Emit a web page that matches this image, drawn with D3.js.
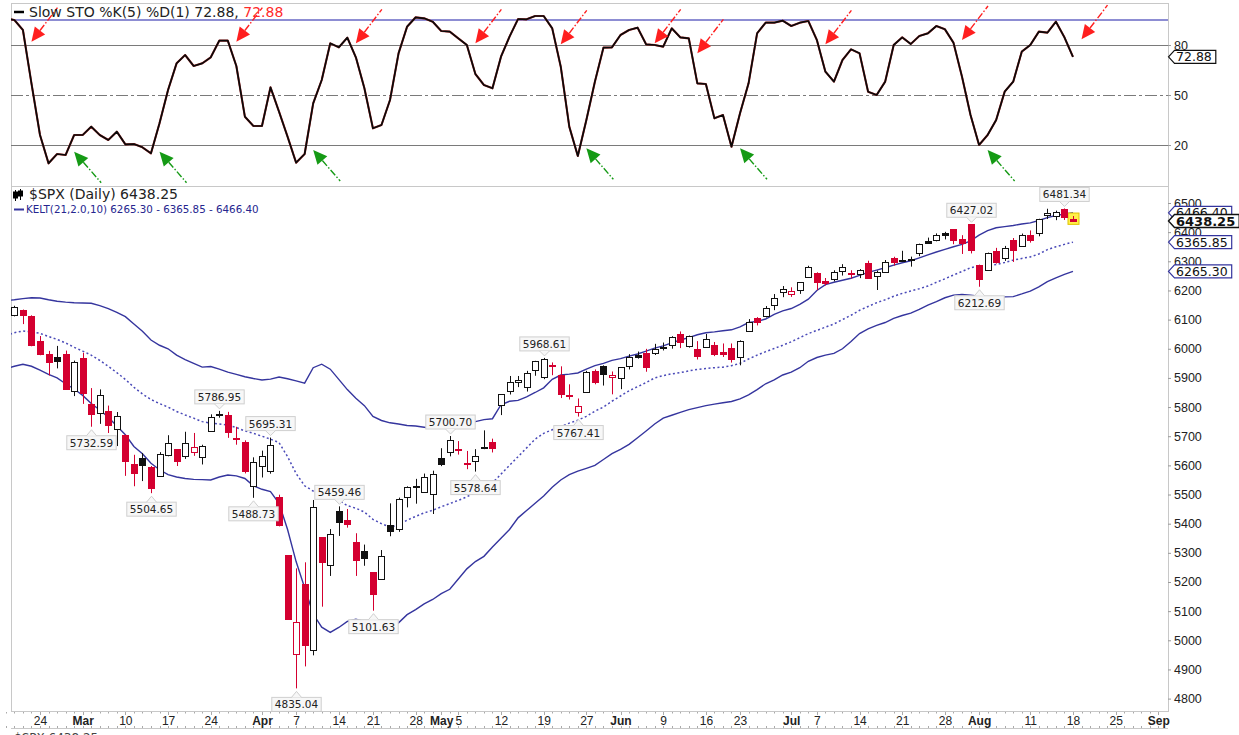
<!DOCTYPE html>
<html>
<head>
<meta charset="utf-8">
<script src="https://cdn.jsdelivr.net/npm/d3@7"></script>
<style>
  body { margin: 0; background: #fff; }
  svg { display: block; }
  text { font-family: "DejaVu Sans", Verdana, sans-serif; }
  .ax text { font-family: "Liberation Sans", Arial, sans-serif; }
</style>
</head>
<body>
<div id="chart"></div>
<script>
// trading days shown (2025), last one is Aug 18
const dates = [
  "02-18","02-19","02-20","02-21","02-24","02-25","02-26","02-27","02-28",
  "03-03","03-04","03-05","03-06","03-07","03-10","03-11","03-12","03-13","03-14",
  "03-17","03-18","03-19","03-20","03-21","03-24","03-25","03-26","03-27","03-28","03-31",
  "04-01","04-02","04-03","04-04","04-07","04-08","04-09","04-10","04-11","04-14",
  "04-15","04-16","04-17","04-21","04-22","04-23","04-24","04-25","04-28","04-29","04-30",
  "05-01","05-02","05-05","05-06","05-07","05-08","05-09","05-12","05-13","05-14",
  "05-15","05-16","05-19","05-20","05-21","05-22","05-23","05-27","05-28","05-29","05-30",
  "06-02","06-03","06-04","06-05","06-06","06-09","06-10","06-11","06-12","06-13",
  "06-16","06-17","06-18","06-20","06-23","06-24","06-25","06-26","06-27","06-30",
  "07-01","07-02","07-03","07-07","07-08","07-09","07-10","07-11","07-14","07-15","07-16",
  "07-17","07-18","07-21","07-22","07-23","07-24","07-25","07-28","07-29","07-30","07-31",
  "08-01","08-04","08-05","08-06","08-07","08-08","08-11","08-12","08-13","08-14","08-15","08-18"
];
// empty days to the right edge of the axis
const futureDays = ["08-19","08-20","08-21","08-22","08-25","08-26","08-27","08-28","08-29","09-02"];

const openP = [
  6121.6,6117.8,6134.5,6114.1,6026.7,5982.7,5970.9,5981.9,5856.7,
  5968.3,5812.0,5781.4,5785.9,5726.0,5705.4,5603.7,5624.8,5594.5,5563.9,
  5635.6,5654.5,5632.4,5646.9,5630.7,5718.1,5775.9,5771.7,5695.6,5679.0,5527.9,
  5597.5,5580.8,5492.7,5292.1,4953.8,5193.6,4965.3,5353.2,5255.6,5442.0,
  5412.0,5335.8,5305.5,5232.9,5207.7,5395.9,5381.4,5489.7,5529.0,5508.9,5499.4,
  5625.1,5645.4,5655.3,5606.9,5614.8,5659.9,5679.1,5807.6,5854.4,5886.6,
  5869.8,5929.1,5902.9,5944.7,5910.0,5841.3,5781.9,5854.1,5925.0,5939.9,5903.7,
  5896.7,5938.6,5978.9,5985.7,5987.1,6004.6,6009.9,6049.4,6009.9,6000.6,
  6004.0,6012.1,5987.9,6004.3,5969.7,6061.2,6104.2,6112.1,6150.7,6193.4,
  6187.3,6199.1,6246.1,6259.8,6233.7,6240.6,6266.4,6255.7,6255.2,6295.3,6248.6,
  6263.8,6311.0,6304.7,6306.6,6326.9,6368.6,6370.0,6397.7,6409.3,6375.4,6427.0,
  6287.3,6271.7,6336.0,6309.1,6374.3,6351.6,6389.7,6397.3,6460.0,6453.4,6478.9,6445.0
];
const highP = [
  6129.6,6147.4,6134.5,6114.8,6043.7,5992.7,6009.8,5993.7,5959.4,
  5986.1,5865.1,5860.6,5805.1,5783.0,5705.4,5636.3,5642.2,5597.8,5645.3,
  5703.5,5654.5,5715.3,5711.2,5670.8,5775.1,5786.95,5783.6,5732.3,5685.9,5627.6,
  5650.6,5695.31,5499.5,5292.1,5246.6,5267.5,5481.3,5353.2,5381.5,5459.46,
  5450.4,5367.2,5328.3,5232.9,5309.6,5469.7,5489.4,5528.1,5553.7,5571.9,5581.8,
  5658.9,5700.70,5683.3,5649.5,5655.6,5720.1,5691.7,5844.2,5906.6,5906.6,
  5924.2,5958.6,5968.61,5953.1,5939.8,5878.1,5829.5,5924.3,5929.0,5943.1,5922.1,
  5937.4,5981.4,5990.5,5999.7,6016.9,6021.3,6043.0,6059.4,6045.4,6026.2,
  6050.8,6023.3,6018.2,6018.2,6028.9,6101.8,6108.5,6146.5,6187.7,6215.1,
  6210.8,6227.6,6284.7,6262.3,6242.7,6269.2,6290.2,6269.4,6273.3,6302.0,6268.3,
  6304.4,6315.6,6336.1,6316.1,6360.6,6381.3,6395.8,6401.1,6409.3,6389.6,6427.02,
  6288.6,6329.9,6346.1,6352.8,6379.9,6395.2,6405.9,6446.0,6480.3,6473.8,6481.34,6455.3
];
const lowP = [
  6099.5,6111.2,6084.6,6008.6,5977.8,5908.5,5932.7,5858.8,5837.7,
  5810.9,5732.59,5742.4,5711.0,5666.3,5564.0,5528.4,5546.1,5504.65,5563.9,
  5631.1,5597.8,5622.2,5632.6,5603.1,5718.1,5763.6,5694.4,5670.9,5572.4,5488.73,
  5558.5,5571.5,5390.8,5069.9,4835.04,4910.4,4948.4,5115.3,5220.8,5358.0,
  5386.4,5220.8,5255.6,5101.63,5207.7,5356.9,5372.0,5455.9,5468.6,5505.7,5433.2,
  5597.4,5631.0,5637.0,5586.9,5578.64,5655.6,5644.3,5772.5,5843.1,5868.5,
  5853.3,5907.4,5895.7,5909.3,5830.9,5825.8,5767.41,5854.1,5878.1,5873.8,5843.7,
  5861.4,5929.0,5966.1,5921.2,5978.6,5994.2,6000.3,6002.3,6003.9,5963.2,
  6004.0,5974.8,5971.9,5952.6,5943.2,6059.4,6080.1,6107.2,6132.4,6177.0,
  6178.0,6188.3,6246.1,6201.0,6217.0,6231.1,6251.1,6241.3,6242.3,6241.6,6201.6,
  6263.8,6285.3,6303.8,6281.7,6317.5,6360.6,6368.5,6375.2,6358.7,6325.2,6327.0,
  6212.69,6271.7,6292.1,6301.4,6297.8,6350.6,6364.1,6385.8,6445.0,6441.1,6441.8,6437.0
];
const closeP = [
  6129.58,6144.15,6117.52,6013.13,5983.25,5955.25,5956.06,5861.57,5954.50,
  5849.72,5778.15,5842.63,5738.52,5770.20,5614.56,5572.07,5599.30,5521.52,5638.94,
  5675.12,5614.66,5675.29,5662.89,5667.56,5767.57,5776.65,5712.20,5693.31,5580.94,5611.85,
  5633.07,5670.97,5396.52,5074.08,5062.25,4982.77,5456.90,5268.05,5363.36,5405.97,
  5396.63,5275.70,5282.70,5158.20,5287.76,5375.86,5484.77,5525.21,5528.75,5560.83,5569.06,
  5604.14,5686.67,5650.38,5606.91,5631.28,5663.94,5659.91,5844.19,5886.55,5892.58,
  5916.93,5958.38,5963.60,5940.46,5844.61,5842.01,5802.82,5921.54,5888.55,5912.17,5911.69,
  5935.94,5970.37,5970.81,5939.30,6000.36,6005.88,6038.81,6022.24,6045.26,5976.97,
  6033.11,5982.72,5980.87,5967.84,6025.17,6092.18,6092.16,6141.02,6173.07,6204.95,
  6198.01,6227.42,6279.35,6229.98,6225.52,6263.26,6280.46,6259.75,6268.56,6243.76,6263.70,
  6297.36,6296.79,6305.60,6309.62,6358.91,6363.35,6388.64,6389.77,6370.86,6362.90,6339.39,
  6238.01,6329.94,6299.19,6345.06,6340.00,6389.45,6373.45,6445.76,6466.58,6468.54,6449.80,6438.25
];
const priorClose = 6114.63;

// Keltner channel
const keltUpper = [
  6165,6168,6172,6175,6174,6168,6163,6160,6158,
  6157,6156,6148,6138,6125,6110,6085,6060,6030,6012,
  6000,5978,5963,5950,5937,5939,5930,5920,5912,5904,5898,
  5893,5896,5903,5897,5890,5882,5935,5947,5930,5895,
  5860,5830,5805,5768,5754,5746,5742,5737,5735,5731,5727,
  5729,5732,5735,5742,5750,5757,5760,5808,5820,5823,
  5835,5850,5866,5895,5910,5913,5917,5930,5942,5950,5960,
  5966,5975,5982,5992,6002,6010,6020,6030,6038,6048,
  6055,6058,6062,6065,6075,6090,6094,6102,6118,6130,
  6138,6152,6170,6200,6220,6228,6235,6242,6252,6262,6270,
  6278,6287,6295,6302,6312,6322,6332,6341,6350,6358,6370,
  6390,6405,6415,6419,6423,6428,6432,6440,6450,6457,6462,6466.40
];
const keltMiddle = [
  6045,6055,6061,6058,6053,6042,6032,6020,6005,
  5992,5978,5960,5940,5918,5895,5868,5845,5826,5812,
  5800,5785,5773,5762,5750,5745,5742,5738,5730,5718,5710,
  5700,5690,5678,5630,5572,5530,5512,5503,5497,5480,
  5462,5453,5440,5415,5400,5388,5395,5412,5425,5437,5446,
  5458,5469,5480,5492,5508,5522,5540,5570,5600,5630,
  5660,5690,5710,5722,5733,5745,5755,5768,5786,5800,5820,
  5838,5856,5870,5884,5900,5908,5914,5918,5924,5929,
  5932,5935,5937,5942,5950,5965,5978,5990,6001,6012,
  6024,6038,6052,6063,6074,6085,6100,6115,6132,6145,6158,
  6168,6180,6190,6198,6206,6215,6228,6240,6253,6265,6278,
  6284,6286,6289,6296,6304,6310,6315,6325,6340,6350,6358,6365.85
];
const keltLower = [
  5932,5940,5947,5940,5927,5912,5900,5880,5862,
  5840,5812,5790,5765,5735,5705,5665,5640,5607,5585,
  5568,5560,5555,5552,5551,5550,5560,5567,5564,5555,5530,
  5518,5510,5470,5380,5270,5180,5090,5045,5027,5044,
  5065,5072,5065,5055,5050,5047,5060,5088,5105,5125,5140,
  5160,5175,5210,5245,5270,5288,5320,5350,5380,5420,
  5445,5470,5495,5525,5550,5568,5580,5590,5600,5620,5640,
  5655,5672,5695,5718,5742,5762,5772,5782,5791,5798,
  5805,5810,5815,5819,5828,5842,5860,5880,5893,5910,
  5920,5935,5957,5970,5978,5984,6000,6025,6052,6068,6080,
  6090,6104,6114,6122,6135,6150,6162,6175,6184,6186,6184,
  6180,6176,6175,6178,6179,6188,6198,6212,6230,6243,6255,6265.30
];

// Slow STO %K(5)
const stoK = [
  96,95,89,57,26,9,14.6,14,26,
  26,31,26,23,28,20.4,20.6,18.6,15,33,
  53,69,74,67.4,69,72.6,82.6,82.6,67.4,37,31.4,
  31.4,54.6,40,25,9.4,14.6,45,59,81,78.6,
  84.4,72.6,54,30,32,47,75,91,96.6,96,94,
  88.4,88,84,80,62.6,56,54,73,85,95.6,
  95.4,97.4,97.4,90,67,31,13.4,35,58,78.4,78.6,
  86,89,90.4,80.4,80,79,90,84.6,84,57,
  56.6,36,38,19,39,57,87,93.4,93.4,94.6,
  91.4,93.4,94.4,83,64,58,71,77.4,75,52,50,
  58,80,84.6,80.6,85.4,87,91.4,89.4,81.4,61,38,
  20,26,35,52,58,76,80,88,87.4,94,84.6,72.88
];

const priceTicks = [4800,4900,5000,5100,5200,5300,5400,5500,5600,5700,5800,5900,6000,6100,6200,6300,6400,6500];
const stoTicks = [20,50,80];
const stoBlueLevel = 95;

const xTickLabels = [
  ["02-24","24"],["03-03","Mar"],["03-10","10"],["03-17","17"],["03-24","24"],
  ["04-01","Apr"],["04-07","7"],["04-14","14"],["04-21","21"],["04-28","28"],
  ["05-01","May"],["05-05","5"],["05-12","12"],["05-19","19"],["05-27","27"],
  ["06-02","Jun"],["06-09","9"],["06-16","16"],["06-23","23"],
  ["07-01","Jul"],["07-07","7"],["07-14","14"],["07-21","21"],["07-28","28"],
  ["08-01","Aug"],["08-11","11"],["08-18","18"],["08-25","25"],["09-02","Sep"]
];
const monthNames = ["Mar","Apr","May","Jun","Jul","Aug","Sep"];

const highLabels = [["03-25",5786.95],["04-02",5695.31],["04-14",5459.46],["05-02",5700.70],
                    ["05-19",5968.61],["07-31",6427.02],["08-15",6481.34]];
const lowLabels = [["03-04",5732.59],["03-13",5504.65],["03-31",5488.73],["04-07",4835.04],
                   ["04-21",5101.63],["05-07",5578.64],["05-23",5767.41],["08-01",6212.69]];

// hand drawn arrows on the oscillator: tip date and value
const sellArrows = [["02-21",82],["03-27",82],["04-16",81],["05-07",81],["05-21",80.4],
                    ["06-06",81],["06-13",75],["07-08",80.4],["07-30",83],["08-19",83.5]];
const buyArrows = [["02-28",16],["03-14",16],["04-09",17],["05-27",18],["06-23",18],["08-04",17]];

const keltValues = [6265.30, 6365.85, 6466.40];
const lastPrice = 6438.25;

// ---------------------------------------------------------------
const width = 1239, height = 735;
const L = 11, R = 1168;
const stoTop = 3, stoBot = 186, mainTop = 186, mainBot = 711;
const red = "#d40030", kelt = "#35359e";

const svg = d3.select("#chart").append("svg")
  .attr("width", width).attr("height", height);

const allDays = dates.concat(futureDays);
const x = d3.scalePoint().domain(allDays).range([5.85, 5.85 + (allDays.length - 1) * 8.537]);
const y = d3.scaleLinear().domain([4800, 6500]).range([698.6, 203]);
const ySto = d3.scaleLinear().domain([20, 80]).range([145, 45]);

const defs = svg.append("defs");
defs.append("clipPath").attr("id", "clipSto").append("rect")
  .attr("x", L).attr("y", stoTop).attr("width", R - L).attr("height", stoBot - stoTop);
defs.append("clipPath").attr("id", "clipMain").append("rect")
  .attr("x", L).attr("y", mainTop).attr("width", R - L).attr("height", mainBot - mainTop);

// panel frames
svg.append("rect").attr("x", L + 0.5).attr("y", stoTop + 0.5).attr("width", R - L).attr("height", stoBot - stoTop)
  .attr("fill", "none").attr("stroke", "#c8c8c8");
svg.append("rect").attr("x", L + 0.5).attr("y", mainTop + 0.5).attr("width", R - L).attr("height", mainBot - mainTop)
  .attr("fill", "none").attr("stroke", "#c8c8c8");
svg.append("line").attr("x1", L).attr("x2", R).attr("y1", 728.5).attr("y2", 728.5).attr("stroke", "#c8c8c8");

// ---------------- oscillator panel ----------------
const gSto = svg.append("g").attr("clip-path", "url(#clipSto)");

gSto.selectAll("line.lvl").data(stoTicks).join("line")
  .attr("x1", L).attr("x2", R)
  .attr("y1", d => Math.round(ySto(d)) + 0.5).attr("y2", d => Math.round(ySto(d)) + 0.5)
  .attr("stroke", "#7a7a7a").attr("stroke-width", 1.2)
  .attr("stroke-dasharray", d => d === 50 ? "12,3,3,3" : null);
gSto.append("line").attr("x1", L).attr("x2", R)
  .attr("y1", ySto(stoBlueLevel)).attr("y2", ySto(stoBlueLevel))
  .attr("stroke", "#1c1ca8").attr("stroke-width", 1.2);

const stoLine = d3.line().x((d, i) => x(dates[i])).y(d => ySto(d));
gSto.append("path").datum(stoK).attr("d", stoLine)
  .attr("fill", "none").attr("stroke", "#b03030").attr("stroke-width", 2.1).attr("stroke-linejoin", "round");
gSto.append("path").datum(stoK).attr("d", stoLine)
  .attr("fill", "none").attr("stroke", "#0a0a0a").attr("stroke-width", 1.7).attr("stroke-linejoin", "round");

function arrow(g, tipX, tipY, dx, dy, color) {
  const len = Math.hypot(dx, dy), ux = dx / len, uy = dy / len;
  const bx = tipX + ux * 14, by = tipY + uy * 14, px = -uy, py = ux;
  g.append("line").attr("x1", bx).attr("y1", by).attr("x2", tipX + dx).attr("y2", tipY + dy)
    .attr("stroke", color).attr("stroke-width", 1.4).attr("stroke-dasharray", "7,2,1.5,2");
  g.append("path")
    .attr("d", `M${tipX},${tipY}L${bx + px * 6.5},${by + py * 6.5}L${bx - px * 6.5},${by - py * 6.5}Z`)
    .attr("fill", color);
}
sellArrows.forEach(([d, v]) => arrow(gSto, x(d), ySto(v), 26, -34, "#ff1f1f"));
buyArrows.forEach(([d, v]) => arrow(gSto, x(d), ySto(v), 27, 31, "#159a15"));

// legend
svg.append("line").attr("x1", 14).attr("x2", 24).attr("y1", 12).attr("y2", 12).attr("stroke", "#000").attr("stroke-width", 2.5);
const stoLeg = svg.append("text").attr("x", 29).attr("y", 17).attr("font-size", 14).attr("fill", "#222");
stoLeg.append("tspan").text("Slow STO %K(5) %D(1) 72.88, ");
stoLeg.append("tspan").attr("fill", "#ff2a2a").text("72.88");

// oscillator axis
const stoAxis = svg.append("g").attr("class", "ax").attr("transform", `translate(${R},0)`)
  .call(d3.axisRight(ySto).tickValues(stoTicks).tickSize(3).tickPadding(3));
stoAxis.select(".domain").remove();
stoAxis.selectAll("line").attr("stroke", "#999");
stoAxis.selectAll("text").attr("font-size", 12.5).attr("fill", "#222");

// ---------------- price panel ----------------
const gMain = svg.append("g").attr("clip-path", "url(#clipMain)");

const keltLine = d3.line().x((d, i) => x(dates[i])).y(d => y(d));
[keltUpper, keltLower].forEach(arr => {
  gMain.append("path").datum(arr).attr("d", keltLine)
    .attr("fill", "none").attr("stroke", kelt).attr("stroke-width", 1.4);
});
gMain.append("path").datum(keltMiddle).attr("d", keltLine)
  .attr("fill", "none").attr("stroke", "#4a4ab8").attr("stroke-width", 1.5).attr("stroke-dasharray", "2,2.5");

const candles = dates.map((d, i) => ({
  d, o: openP[i], h: highP[i], l: lowP[i], c: closeP[i],
  pc: i ? closeP[i - 1] : priorClose
}));

// last bar highlight
const lastC = candles[candles.length - 1];
gMain.append("rect")
  .attr("x", Math.round(x(lastC.d)) - 5).attr("y", y(lastC.h) - 3)
  .attr("width", 11).attr("height", y(lastC.l) - y(lastC.h) + 6)
  .attr("fill", "#fff04a").attr("stroke", "#e0c400");

const cg = gMain.selectAll("g.candle").data(candles).join("g").attr("class", "candle");
const colorOf = d => d.c >= d.pc ? "#111" : red;
cg.append("line")
  .attr("x1", d => Math.round(x(d.d)) + 0.5).attr("x2", d => Math.round(x(d.d)) + 0.5)
  .attr("y1", d => y(d.h)).attr("y2", d => y(d.l))
  .attr("stroke", colorOf).attr("stroke-width", 1);
cg.append("rect")
  .attr("x", d => Math.round(x(d.d)) - 2.5)
  .attr("y", d => Math.round(y(Math.max(d.o, d.c))) + 0.5)
  .attr("width", 6)
  .attr("height", d => Math.max(1, Math.round(Math.abs(y(d.o) - y(d.c)))))
  .attr("fill", d => d.c < d.o ? colorOf(d) : "#fff")
  .attr("stroke", colorOf).attr("stroke-width", 1);

// high / low price call-outs
function callout(d, v, isHigh) {
  const cx = Math.round(x(d)) + 0.5, py = y(v);
  const g = gMain.append("g");
  const tipY = isHigh ? py - 2 : py + 3;
  const edge = isHigh ? py - 7 : py + 9;
  const t = g.append("text").attr("font-size", 10.5).attr("fill", "#222")
    .attr("text-anchor", "middle").attr("x", cx)
    .attr("y", isHigh ? edge - 3 : edge + 11).text(v.toFixed(2));
  const w = t.node().getComputedTextLength() + 6, h = 14;
  g.insert("rect", "text").attr("x", cx - w / 2).attr("y", isHigh ? edge - h : edge)
    .attr("width", w).attr("height", h).attr("fill", "#f7f7f7").attr("stroke", "#cfcfcf");
  g.insert("path", "text").attr("d", `M${cx - 5},${edge}L${cx},${tipY}L${cx + 5},${edge}`)
    .attr("fill", "#f7f7f7").attr("stroke", "#cfcfcf");
}
highLabels.forEach(([d, v]) => callout(d, v, true));
lowLabels.forEach(([d, v]) => callout(d, v, false));

// legends
const icon = svg.append("g").attr("stroke", "#000");
[[15, 190, 201, 192, 198], [20, 189, 200, 191, 196]].forEach(([cx, a, b, c, e]) => {
  icon.append("line").attr("x1", cx + 0.5).attr("x2", cx + 0.5).attr("y1", a).attr("y2", b);
  icon.append("rect").attr("x", cx - 1.5).attr("y", c).attr("width", 4).attr("height", e - c).attr("fill", "#000");
});
svg.append("text").attr("x", 29).attr("y", 199).attr("font-size", 14).attr("fill", "#222")
  .text("$SPX (Daily) 6438.25");
svg.append("line").attr("x1", 14).attr("x2", 24).attr("y1", 209.5).attr("y2", 209.5).attr("stroke", kelt).attr("stroke-width", 2);
svg.append("text").attr("x", 26).attr("y", 213).attr("font-size", 10.3).attr("fill", "#26268f")
  .text("KELT(21,2.0,10) 6265.30 - 6365.85 - 6466.40");

// price axis
const yAxis = svg.append("g").attr("class", "ax").attr("transform", `translate(${R},0)`)
  .call(d3.axisRight(y).tickValues(priceTicks).tickSize(3).tickPadding(3).tickFormat(d3.format("d")));
yAxis.select(".domain").remove();
yAxis.selectAll("line").attr("stroke", "#999");
yAxis.selectAll("text").attr("font-size", 12.5).attr("fill", "#222");

// value tags on the right
function tag(yc, label, stroke, bold) {
  const g = svg.append("g");
  const t = g.append("text").attr("x", R + 8).attr("y", yc + 4.5)
    .attr("font-family", "Liberation Sans, Arial, sans-serif")
    .attr("font-size", bold ? 13 : 12.5).attr("font-weight", bold ? "bold" : null)
    .attr("fill", "#111").text(label);
  const w = t.node().getComputedTextLength() + 12;
  g.insert("path", "text")
    .attr("d", `M${R + 0.5},${yc}L${R + 6.5},${yc - 6.5}H${R + w}V${yc + 6.5}H${R + 6.5}Z`)
    .attr("fill", "#fff").attr("stroke", stroke).attr("stroke-width", bold ? 1.4 : 1.2);
}
tag(y(keltValues[2]), keltValues[2].toFixed(2), kelt, false);
tag(y(keltValues[1]), keltValues[1].toFixed(2), kelt, false);
tag(y(keltValues[0]), keltValues[0].toFixed(2), kelt, false);
tag(y(lastPrice), lastPrice.toFixed(2), "#111", true);
tag(ySto(stoK[stoK.length - 1]), stoK[stoK.length - 1].toFixed(2), "#111", false);

// date axis
const labelOf = new Map(xTickLabels);
const dayTicks = svg.append("g").attr("stroke", "#aaa");
dayTicks.selectAll("line.top").data(allDays).join("line").attr("class", "top")
  .attr("x1", d => Math.round(x(d)) + 0.5).attr("x2", d => Math.round(x(d)) + 0.5)
  .attr("y1", mainBot + 1).attr("y2", d => labelOf.has(d) ? mainBot + 4 : mainBot + 2.5);
dayTicks.selectAll("line.bot").data(allDays).join("line").attr("class", "bot")
  .attr("x1", d => Math.round(x(d)) + 0.5).attr("x2", d => Math.round(x(d)) + 0.5)
  .attr("y1", 728).attr("y2", 726);
const xAxis = svg.append("g").attr("class", "ax").attr("transform", `translate(0,${mainBot})`)
  .call(d3.axisBottom(x).tickValues(xTickLabels.map(t => t[0])).tickSize(0).tickPadding(5)
    .tickFormat(d => labelOf.get(d)));
xAxis.select(".domain").remove();
xAxis.selectAll("text").attr("font-size", 12).attr("fill", "#222")
  .attr("font-weight", d => monthNames.includes(labelOf.get(d)) ? "bold" : null);

// next panel header, cut by the window edge
svg.append("text").attr("x", 14).attr("y", 742).attr("font-size", 12).attr("fill", "#444")
  .text("$SPX 6438.25");
</script>
</body>
</html>
